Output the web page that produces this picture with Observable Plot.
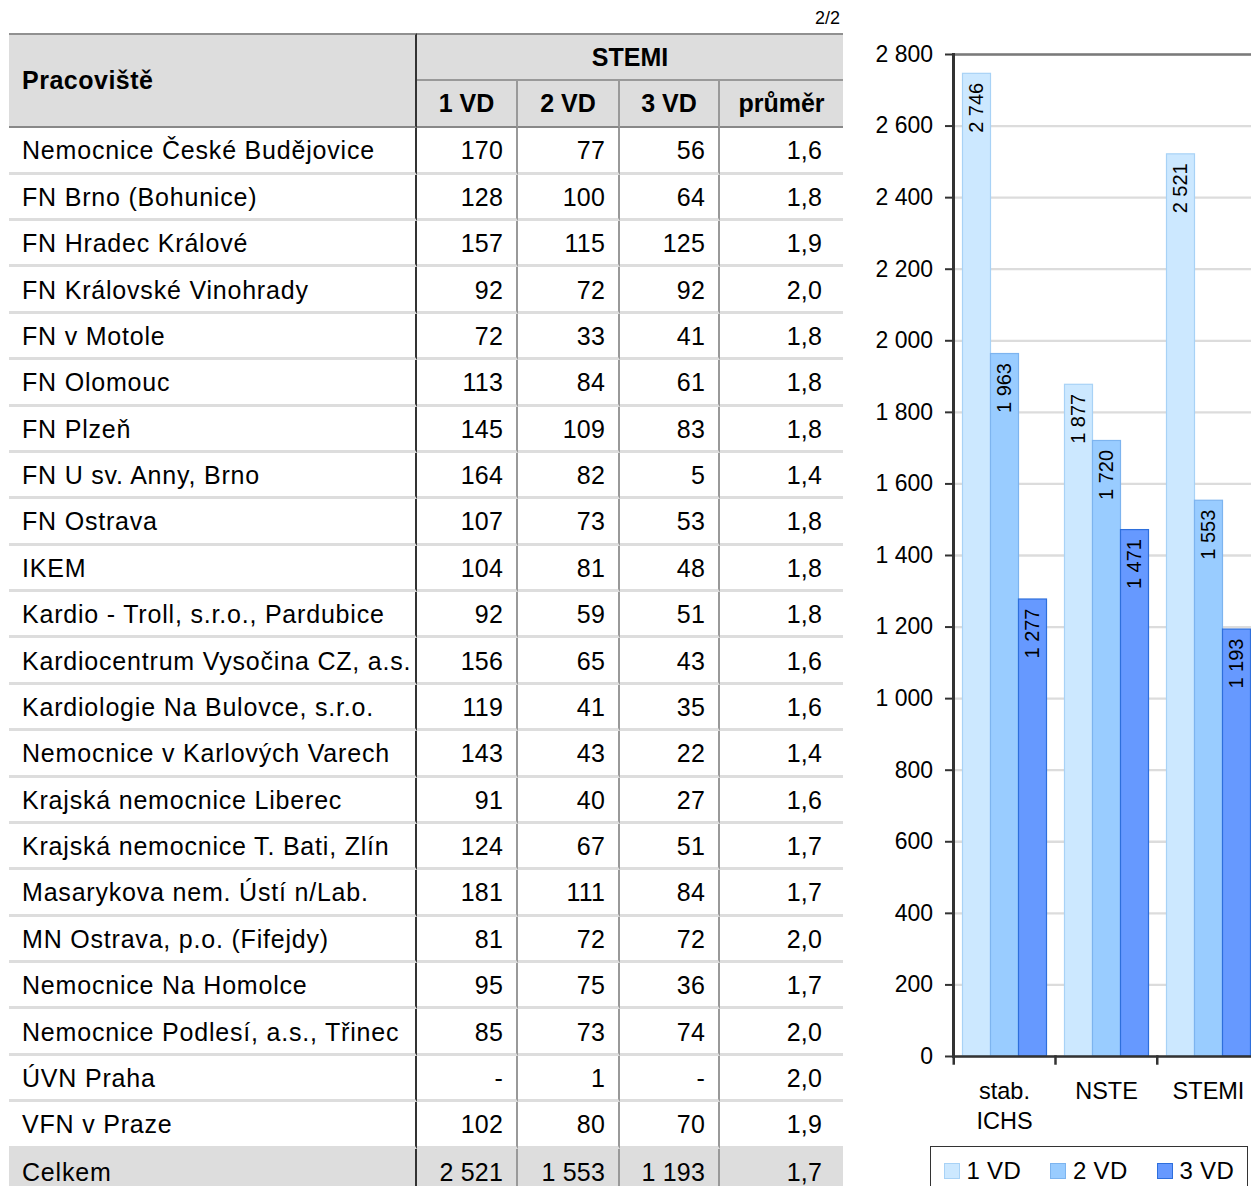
<!DOCTYPE html>
<html>
<head>
<meta charset="utf-8">
<script src="https://cdn.jsdelivr.net/npm/d3@7"></script>
<script src="https://cdn.jsdelivr.net/npm/@observablehq/plot@0.6"></script>
<style>
html, body { margin: 0; padding: 0; width: 1251px; height: 1186px; overflow: hidden; background: #fff; font-family: "Liberation Sans", Arial, sans-serif; color: #000; }
#page { position: relative; width: 1251px; height: 1186px; overflow: hidden; }
#pager { position: absolute; left: 760px; top: 8px; width: 80px; text-align: right; font-size: 18px; }
#tbl { position: absolute; left: 9px; top: 33.3px; }
table { border-collapse: separate; border-spacing: 0; table-layout: fixed; width: 834px; font-size: 25px; }
td, th { padding: 0; box-sizing: border-box; white-space: nowrap; overflow: visible; vertical-align: middle; }
th { background: #dddddd; font-weight: bold; }
th.name { height: 95px; border-top: 2px solid #909090; border-bottom: 2px solid #888; border-right: 2px solid #333; text-align: left; padding-left: 13px; letter-spacing: 0.5px; }
th.group { height: 48px; border-top: 2px solid #909090; border-bottom: 2px solid #999; text-align: center; }
th.sub { height: 47px; border-bottom: 2px solid #888; text-align: center; }
th.sub.sep { border-right: 2px solid #999; }
td { height: 46.375px; border-bottom: 3px solid #dddddd; padding-top: 2px; }
td.lab { border-right: 2px solid #333; padding-left: 13px; letter-spacing: 0.8px; }
td.num { text-align: right; padding-right: 13px; letter-spacing: 0.2px; }
td.num.sep { border-right: 2px solid #999; }
td.num.last { padding-right: 21px; }
tr.total td { background: #dddddd; border-bottom: none; }
#chart { position: absolute; left: 850px; top: 0px; width: 420px; }
#ticks { position: absolute; left: 850px; top: 1056px; width: 420px; }
#chart svg, #ticks svg { max-width: none; overflow: visible; }
#legend { position: absolute; left: 930px; top: 1146px; width: 318px; height: 60px; border: 1.5px solid #333; box-sizing: border-box; background: #fff; }
.item { position: absolute; top: 10px; height: 28px; font-size: 24px; line-height: 28px; white-space: nowrap; }
.sw { position: absolute; left: 0; top: 6px; width: 16px; height: 16px; box-sizing: border-box; border: 1.3px solid; }
.it { position: absolute; left: 23px; top: 0; letter-spacing: 0.3px; }
</style>
</head>
<body>
<div id="page">
  <div id="pager">2/2</div>
  <div id="tbl"></div>
  <div id="chart"></div>
  <div id="ticks"></div>
  <div id="legend"></div>
</div>
<script>
// ---------- table data ----------
const hospitals = [
  "Nemocnice České Budějovice", "FN Brno (Bohunice)", "FN Hradec Králové", "FN Královské Vinohrady",
  "FN v Motole", "FN Olomouc", "FN Plzeň", "FN U sv. Anny, Brno", "FN Ostrava", "IKEM",
  "Kardio - Troll, s.r.o., Pardubice", "Kardiocentrum Vysočina CZ, a.s.", "Kardiologie Na Bulovce, s.r.o.",
  "Nemocnice v Karlových Varech", "Krajská nemocnice Liberec", "Krajská nemocnice T. Bati, Zlín",
  "Masarykova nem. Ústí n/Lab.", "MN Ostrava, p.o. (Fifejdy)", "Nemocnice Na Homolce",
  "Nemocnice Podlesí, a.s., Třinec", "ÚVN Praha", "VFN v Praze"
];
const stemi1VD = [170, 128, 157, 92, 72, 113, 145, 164, 107, 104, 92, 156, 119, 143, 91, 124, 181, 81, 95, 85, null, 102];
const stemi2VD = [77, 100, 115, 72, 33, 84, 109, 82, 73, 81, 59, 65, 41, 43, 40, 67, 111, 72, 75, 73, 1, 80];
const stemi3VD = [56, 64, 125, 92, 41, 61, 83, 5, 53, 48, 51, 43, 35, 22, 27, 51, 84, 72, 36, 74, null, 70];
const stemiAvg = [1.6, 1.8, 1.9, 2.0, 1.8, 1.8, 1.8, 1.4, 1.8, 1.8, 1.8, 1.6, 1.6, 1.4, 1.6, 1.7, 1.7, 2.0, 1.7, 2.0, 2.0, 1.9];
const totalLabel = "Celkem";
const totalRow = [2521, 1553, 1193];
const totalAvg = 1.7;
const headerName = "Pracoviště";
const headerGroup = "STEMI";
const headerCols = ["1 VD", "2 VD", "3 VD", "průměr"];

// ---------- chart data ----------
const categories = ["stab.\nICHS", "NSTE", "STEMI"];
const series = ["1 VD", "2 VD", "3 VD"];
const totals1VD = [2746, 1877, 2521];
const totals2VD = [1963, 1720, 1553];
const totals3VD = [1277, 1471, 1193];
const yTicks = [0, 200, 400, 600, 800, 1000, 1200, 1400, 1600, 1800, 2000, 2200, 2400, 2600, 2800];
const seriesFill = ["#cce8ff", "#99ccff", "#6699ff"];
const seriesStroke = ["#a8d2f6", "#7db4ef", "#2e6fdc"];

const locale = d3.formatLocale({decimal: ",", thousands: " ", grouping: [3], currency: ["", ""]});
const fmtInt = locale.format(",d");
const fmtDec = locale.format(".1f");
const cellInt = v => v == null ? "-" : fmtInt(v);

// ---------- build table ----------
const table = document.createElement("table");
const cg = document.createElement("colgroup");
[408, 101, 102, 100, 123].forEach(w => { const c = document.createElement("col"); c.style.width = w + "px"; cg.appendChild(c); });
table.appendChild(cg);
const thead = document.createElement("thead");
const h1 = document.createElement("tr");
const thName = document.createElement("th"); thName.className = "name"; thName.rowSpan = 2; thName.textContent = headerName; h1.appendChild(thName);
const thGroup = document.createElement("th"); thGroup.className = "group"; thGroup.colSpan = 4; thGroup.textContent = headerGroup; h1.appendChild(thGroup);
thead.appendChild(h1);
const h2 = document.createElement("tr");
headerCols.forEach((t, i) => { const th = document.createElement("th"); th.className = "sub" + (i < 3 ? " sep" : ""); th.textContent = t; h2.appendChild(th); });
thead.appendChild(h2);
table.appendChild(thead);
const tbody = document.createElement("tbody");
function addRow(label, vals, avg, cls) {
  const tr = document.createElement("tr");
  if (cls) tr.className = cls;
  const tdL = document.createElement("td"); tdL.className = "lab"; tdL.textContent = label; tr.appendChild(tdL);
  vals.forEach(v => { const td = document.createElement("td"); td.className = "num sep"; td.textContent = cellInt(v); tr.appendChild(td); });
  const tdA = document.createElement("td"); tdA.className = "num last"; tdA.textContent = fmtDec(avg); tr.appendChild(tdA);
  tbody.appendChild(tr);
}
hospitals.forEach((h, i) => addRow(h, [stemi1VD[i], stemi2VD[i], stemi3VD[i]], stemiAvg[i]));
addRow(totalLabel, totalRow, totalAvg, "total");
table.appendChild(tbody);
document.getElementById("tbl").appendChild(table);

// ---------- build chart ----------
const seriesTotals = [totals1VD, totals2VD, totals3VD];
const barData = categories.flatMap((c, i) => series.map((s, j) => ({cat: c, series: s, value: seriesTotals[j][i]})));
const colorOf = (arr) => d => arr[series.indexOf(d.series)];
const baseStyle = {fontFamily: "'Liberation Sans', Arial, sans-serif", fontSize: "22.5px", color: "#000", background: "transparent", maxWidth: "none", overflow: "visible"};

const chart = Plot.plot({
  width: 410.3,
  height: 1140,
  marginLeft: 102.5,
  marginRight: 0,
  marginTop: 54,
  marginBottom: 84,
  style: baseStyle,
  fx: {domain: categories, padding: 0, axis: null, label: null},
  x: {domain: series, paddingInner: 0, paddingOuter: 0.273, align: 0.5, axis: null},
  y: {domain: [0, 2800], label: null},
  marks: [
    Plot.ruleY(yTicks, {stroke: "#dcdcdc", strokeWidth: 2.3}),
    Plot.ruleY([2800], {stroke: "#7a7a7a", strokeWidth: 2.3}),
    Plot.barY(barData, {fx: "cat", x: "series", y: "value", fill: colorOf(seriesFill), stroke: colorOf(seriesStroke), strokeWidth: 1.2}),
    Plot.text(barData, {fx: "cat", x: "series", y: "value", text: d => fmtInt(d.value), rotate: -90, textAnchor: "end", dy: 9, fontSize: 20, fill: "#000"}),
    Plot.ruleY([0], {stroke: "#333", strokeWidth: 2.5}),
    Plot.frame({anchor: "left", facetAnchor: "left", stroke: "#333", strokeWidth: 3}),
    Plot.axisY({ticks: yTicks, tickFormat: fmtInt, tickSize: 8, tickPadding: 12.5, stroke: "#333", strokeWidth: 2, label: null, fontSize: 23}),
    Plot.text(categories, {fx: d => d, text: d => d, frameAnchor: "bottom", lineAnchor: "top", dy: 22, lineHeight: 1.25, fontSize: 23.5, fill: "#000"})
  ]
});
document.getElementById("chart").appendChild(chart);

// category boundary ticks below the baseline
const ticksPlot = Plot.plot({
  width: 410.3,
  height: 7,
  marginLeft: 102.5,
  marginRight: 0,
  marginTop: 0,
  marginBottom: 0,
  style: baseStyle,
  facet: {data: categories, x: d => d},
  fx: {domain: categories, padding: 0, axis: null, label: null},
  marks: [Plot.frame({anchor: "left", stroke: "#333", strokeWidth: 2.5})]
});
document.getElementById("ticks").appendChild(ticksPlot);

// ---------- legend ----------
const legend = document.getElementById("legend");
series.forEach((s, i) => {
  const item = document.createElement("div");
  item.className = "item";
  item.style.left = (12.5 + i * 106.5) + "px";
  const sw = document.createElement("span");
  sw.className = "sw";
  sw.style.background = seriesFill[i];
  sw.style.borderColor = seriesStroke[i];
  const t = document.createElement("span");
  t.className = "it";
  t.textContent = s;
  item.appendChild(sw); item.appendChild(t);
  legend.appendChild(item);
});
</script>
</body>
</html>
